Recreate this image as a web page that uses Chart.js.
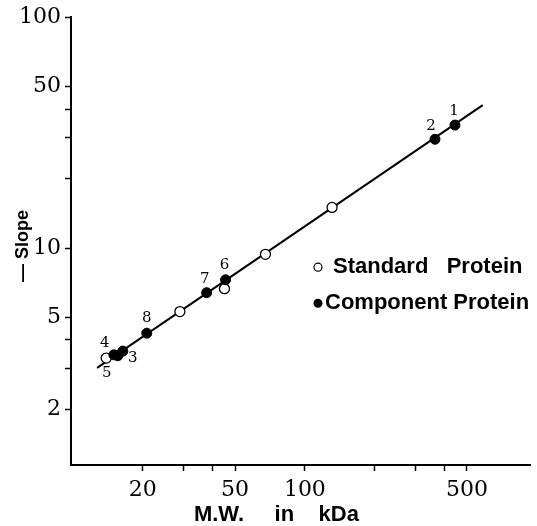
<!doctype html>
<html>
<head>
<meta charset="utf-8">
<title>-Slope vs M.W.</title>
<script src="https://cdn.jsdelivr.net/npm/chart.js@4.4.0/dist/chart.umd.min.js"></script>
<style>
  html, body { margin: 0; padding: 0; background: #fff; }
</style>
</head>
<body>
<canvas id="myChart" width="537" height="526"></canvas>
<script>
// standard proteins (open circles)
var standardMW = [13.9, 28.9, 45.0, 67.6, 131];
var standardSlope = [3.34, 5.31, 6.67, 9.4, 15.0];

// component proteins (filled circles), numbered
var componentNo = ['1', '2', '3', '4', '5', '6', '7', '8'];
var componentMW = [444, 364, 16.4, 15.0, 15.6, 45.5, 37.7, 20.8];
var componentSlope = [34.1, 29.6, 3.58, 3.45, 3.42, 7.29, 6.41, 4.28];

// fitted line, end points
var lineMW = [12.7, 585];
var lineSlope = [3.03, 41.6];

// axis ticks
var xTicks = [20, 30, 40, 50, 100, 200, 300, 400, 500];
var xLabels = [20, 50, 100, 500];
var yTicks = [2, 3, 4, 5, 10, 20, 30, 40, 50, 100];
var yLabels = [2, 5, 10, 50, 100];

function pts(xs, ys) {
  return xs.map(function (v, i) { return { x: v, y: ys[i] }; });
}

// where the number sits relative to its point (px)
var numOffset = [[-1, -14], [-4, -13], [10, 7], [-9, -12], [-11, 17], [-1, -15], [-2, -14], [0, -15]];

var extras = {
  id: 'extras',
  afterDatasetsDraw: function (chart) {
    var ctx = chart.ctx, xs = chart.scales.x, ys = chart.scales.y, a = chart.chartArea;
    ctx.save();
    ctx.fillStyle = '#000';
    ctx.strokeStyle = '#000';
    // point numbers
    ctx.font = '15px "DejaVu Serif"';
    ctx.textAlign = 'center';
    ctx.textBaseline = 'middle';
    componentNo.forEach(function (n, i) {
      var px = xs.getPixelForValue(componentMW[i]) + numOffset[i][0];
      var py = ys.getPixelForValue(componentSlope[i]) + numOffset[i][1];
      ctx.fillText(n, px, py);
    });
    // legend
    ctx.textAlign = 'left';
    ctx.font = 'bold 22px "Liberation Sans"';
    ctx.lineWidth = 1.2;
    ctx.beginPath();
    ctx.arc(a.left + 247, a.top + 250, 4, 0, Math.PI * 2);
    ctx.stroke();
    ctx.fillText('Standard   Protein', a.left + 262, a.top + 250);
    ctx.beginPath();
    ctx.arc(a.left + 247, a.top + 286, 4.5, 0, Math.PI * 2);
    ctx.fill();
    ctx.fillText('Component Protein', a.left + 254, a.top + 286);
    ctx.restore();
  }
};

var ctx = document.getElementById('myChart').getContext('2d');
var chart = new Chart(ctx, {
  type: 'scatter',
  data: {
    datasets: [{
      label: 'Component Protein',
      data: pts(componentMW, componentSlope),
      pointRadius: 5,
      pointBackgroundColor: '#000',
      pointBorderColor: '#000',
      pointBorderWidth: 1,
      order: 1
    }, {
      label: 'Standard Protein',
      data: pts(standardMW, standardSlope),
      pointRadius: 5,
      pointBackgroundColor: '#fff',
      pointBorderColor: '#000',
      pointBorderWidth: 1.3,
      order: 2
    }, {
      label: 'fit',
      data: pts(lineMW, lineSlope),
      showLine: true,
      borderColor: '#000',
      borderWidth: 2,
      pointRadius: 0,
      order: 3
    }]
  },
  options: {
    responsive: false,
    animation: false,
    layout: { padding: { left: 0, right: 5, top: 14, bottom: 0 } },
    plugins: { legend: { display: false }, tooltip: { enabled: false } },
    scales: {
      x: {
        type: 'logarithmic',
        min: 9.8,
        max: 942,
        afterBuildTicks: function (s) { s.ticks = xTicks.map(function (v) { return { value: v }; }); },
        afterFit: function (s) { s.height = 61; },
        grid: { drawOnChartArea: false, tickLength: 6, tickColor: '#000', tickWidth: 1.5 },
        border: { color: '#000', width: 2 },
        ticks: {
          autoSkip: false, maxRotation: 0, padding: 6, color: '#000',
          font: { family: 'DejaVu Serif', size: 22 },
          callback: function (v) { return xLabels.indexOf(v) >= 0 ? String(v) : ''; }
        },
        title: {
          // trailing spaces pull the centred title left, as in the original
          display: true, text: 'M.W.     in    kDa        ', color: '#000',
          font: { family: 'Liberation Sans', size: 22, weight: 'bold', lineHeight: 1 },
          padding: { top: 0, bottom: 0 }
        }
      },
      y: {
        type: 'logarithmic',
        min: 1.15,
        max: 100,
        afterBuildTicks: function (s) { s.ticks = yTicks.map(function (v) { return { value: v }; }); },
        afterFit: function (s) { s.width = 71; },
        grid: { drawOnChartArea: false, tickLength: 6, tickColor: '#000', tickWidth: 1.5 },
        border: { color: '#000', width: 2 },
        ticks: {
          autoSkip: false, padding: 4, color: '#000',
          font: { family: 'DejaVu Serif', size: 22 },
          callback: function (v) { return yLabels.indexOf(v) >= 0 ? String(v) : ''; }
        },
        title: {
          display: true, text: '— Slope  ', color: '#000',
          font: { family: 'Liberation Sans', size: 18, weight: 'bold', lineHeight: 1.2 },
          padding: { top: 12, bottom: 0 }
        }
      }
    }
  },
  plugins: [extras]
});
</script>
</body>
</html>
